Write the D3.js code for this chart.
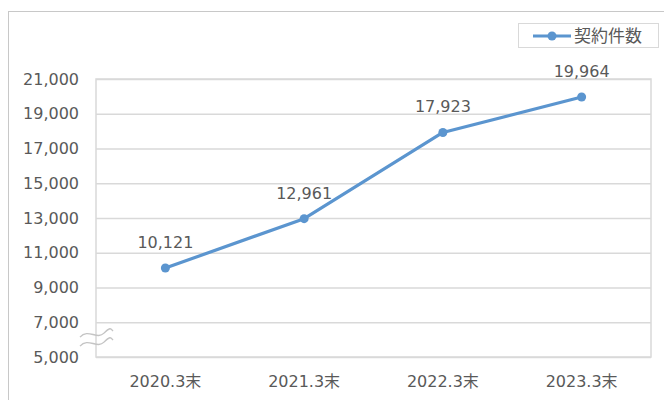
<!DOCTYPE html>
<html>
<head>
<meta charset="utf-8">
<script src="https://cdn.jsdelivr.net/npm/d3@7"></script>
<style>
  body { margin: 0; background: #fff; }
  svg { display: block; font-family: "DejaVu Sans", "Noto Sans CJK JP", sans-serif; }
</style>
</head>
<body>
<svg width="664" height="400"></svg>
<script>
// chart data
var categories = ["2020.3末", "2021.3末", "2022.3末", "2023.3末"];
var values = [10121, 12961, 17923, 19964];
var yTicks = [5000, 7000, 9000, 11000, 13000, 15000, 17000, 19000, 21000];
var seriesName = "契約件数";

var width = 664, height = 400;
var plot = {left: 96, right: 651, top: 79, bottom: 357};
var blue = "#5b95cf", textColor = "#595959";

var svg = d3.select("svg");

// outer chart frame (runs off the right/bottom edge)
svg.append("rect")
    .attr("x", 8.5).attr("y", 11.5)
    .attr("width", 700).attr("height", 450)
    .attr("fill", "#fff")
    .attr("stroke", "#c8c8c8");

var xScale = d3.scaleBand()
    .domain(categories)
    .range([plot.left, plot.right]);

var yScale = d3.scaleLinear()
    .domain([5000, 21000])
    .range([plot.bottom, plot.top]);

// grid lines + y labels
var yAxis = d3.axisLeft(yScale)
    .tickValues(yTicks)
    .tickSize(-(plot.right - plot.left))
    .tickFormat(d3.format(","))
    .tickPadding(17);

var gy = svg.append("g")
    .attr("transform", "translate(" + plot.left + ",0)")
    .call(yAxis);
gy.select(".domain").remove();
gy.selectAll("line").attr("stroke", "#d9d9d9").attr("stroke-width", 1.5);
gy.selectAll("text")
    .attr("fill", textColor)
    .style("font-family", "'DejaVu Sans', sans-serif")
    .style("font-size", "16px");

// plot border
svg.append("rect")
    .attr("x", plot.left).attr("y", plot.top)
    .attr("width", plot.right - plot.left).attr("height", plot.bottom - plot.top)
    .attr("fill", "none")
    .attr("stroke", "#d9d9d9").attr("stroke-width", 1.5);

// x axis labels
var xAxis = d3.axisBottom(xScale).tickSize(0).tickPadding(19);
var gx = svg.append("g")
    .attr("transform", "translate(0," + plot.bottom + ")")
    .call(xAxis);
gx.select(".domain").remove();
gx.selectAll("text")
    .attr("fill", textColor)
    .style("font-family", "'DejaVu Sans', 'Noto Sans CJK JP', sans-serif")
    .style("font-size", "16px");

// axis break mark
var breakY = yScale(6000) - 1;
[-4.5, 4.5].forEach(function(off) {
  svg.append("path")
    .attr("d", "M80," + (breakY + off + 3) +
               " C88," + (breakY + off - 6) + " 97," + (breakY + off + 6) + " 104," + (breakY + off - 1) +
               " S111," + (breakY + off - 5) + " 113," + (breakY + off - 3))
    .attr("fill", "none")
    .attr("stroke", "#c4c4c4")
    .attr("stroke-width", 1.4);
});

// line + markers
var cx = function(d, i) { return xScale(categories[i]) + xScale.bandwidth() / 2; };

svg.append("path")
    .datum(values)
    .attr("fill", "none")
    .attr("stroke", blue)
    .attr("stroke-width", 3.2)
    .attr("stroke-linejoin", "round")
    .attr("d", d3.line().x(cx).y(function(d) { return yScale(d); }));

svg.selectAll("circle.pt")
  .data(values)
  .enter()
  .append("circle")
    .attr("class", "pt")
    .attr("cx", cx)
    .attr("cy", function(d) { return yScale(d); })
    .attr("r", 4.5)
    .attr("fill", blue);

// data labels
svg.selectAll("text.lbl")
  .data(values)
  .enter()
  .append("text")
    .attr("class", "lbl")
    .attr("x", cx)
    .attr("y", function(d) { return yScale(d) - 20; })
    .attr("text-anchor", "middle")
    .attr("fill", textColor)
    .style("font-size", "16px")
    .text(d3.format(","));

// legend
var lg = svg.append("g");
lg.append("rect")
    .attr("x", 518.5).attr("y", 23.5)
    .attr("width", 140).attr("height", 24)
    .attr("fill", "#fff")
    .attr("stroke", "#d9d9d9");
lg.append("line")
    .attr("x1", 533).attr("x2", 571)
    .attr("y1", 36).attr("y2", 36)
    .attr("stroke", blue).attr("stroke-width", 3.2);
lg.append("circle")
    .attr("cx", 552).attr("cy", 36).attr("r", 4.5)
    .attr("fill", blue);
lg.append("text")
    .attr("x", 574).attr("y", 42)
    .attr("fill", textColor)
    .style("font-size", "17px")
    .style("font-family", "'Noto Sans CJK JP', sans-serif")
    .text(seriesName);
</script>
</body>
</html>
